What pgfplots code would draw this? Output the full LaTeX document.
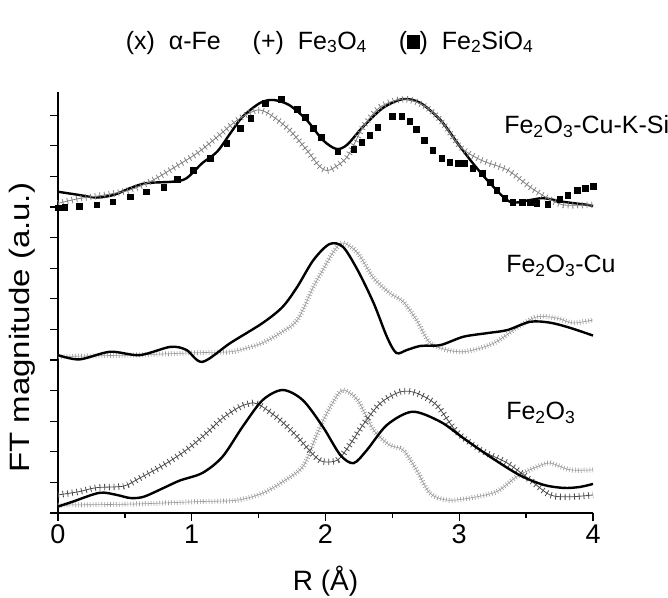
\documentclass[border=0pt]{standalone}
\usepackage{fontspec}
\setmainfont{Liberation Sans}
\newfontfamily\stretchfont{Liberation Sans}[FakeStretch=1.18]
\usepackage{pgfplots}
\pgfplotsset{compat=1.18}

\pgfplotsset{
  plusline/.style={#1, smooth, line width=0.8pt},
  plusbars/.style={#1, smooth, line width=6.5pt, dash pattern=on 0.8pt off 3.9pt},
  xline/.style={#1, smooth, line width=0.6pt},
  xbars/.style={#1, smooth, line width=5pt, dash pattern=on 0.6pt off 2.3pt},
}

\pgfplotstableread{
x y
0.00 10.50
0.15 10.40
0.29 10.31
0.42 10.40
0.54 10.62
0.66 10.78
0.86 10.83
0.96 10.94
1.08 11.44
1.19 11.81
1.29 12.42
1.38 12.95
1.51 13.40
1.61 13.50
1.73 13.33
1.86 12.84
1.98 12.19
2.08 11.90
2.16 12.03
2.28 12.62
2.43 13.24
2.58 13.53
2.71 13.40
2.86 12.84
2.98 12.13
3.10 11.44
3.23 10.78
3.38 10.17
3.53 10.23
3.63 10.29
3.78 10.17
3.96 10.07
4.00 10.03
}\topsolid

\pgfplotstableread{
x y
0.00 10.12
0.16 10.28
0.34 10.39
0.54 10.56
0.71 10.88
0.86 11.27
1.04 11.76
1.19 12.29
1.34 12.84
1.49 13.17
1.59 13.01
1.73 12.52
1.86 11.86
1.96 11.31
2.03 11.21
2.16 11.63
2.28 12.61
2.41 13.27
2.58 13.53
2.73 13.33
2.86 12.84
3.01 11.96
3.16 11.54
3.36 11.21
3.53 10.65
3.66 10.29
3.78 10.07
3.96 10.07
4.00 10.07
}\topplus

\pgfplotstableread{
x y
0.00 9.98
0.05 9.99
0.16 10.03
0.29 10.07
0.41 10.17
0.54 10.34
0.66 10.50
0.79 10.64
0.89 10.91
1.01 11.21
1.14 11.60
1.26 12.09
1.36 12.58
1.44 12.91
1.55 13.40
1.67 13.53
1.79 13.20
1.85 12.94
1.91 12.58
1.97 12.29
2.09 11.83
2.21 11.90
2.27 12.12
2.33 12.35
2.39 12.61
2.50 12.97
2.57 12.97
2.63 12.81
2.68 12.55
2.74 12.19
2.80 11.86
2.87 11.60
2.93 11.47
2.99 11.44
3.04 11.44
3.10 11.27
3.17 11.11
3.23 10.82
3.28 10.56
3.34 10.29
3.40 10.16
3.47 10.16
3.53 10.16
3.58 10.13
3.66 10.10
3.75 10.26
3.81 10.39
3.88 10.56
3.94 10.62
4.00 10.68
}\topsq

\pgfplotstableread{
x y
0.00 5.16
0.16 5.02
0.39 5.27
0.61 5.16
0.84 5.43
0.96 5.33
1.08 4.94
1.29 5.56
1.53 6.21
1.68 6.74
1.79 7.40
1.91 8.27
2.03 8.79
2.13 8.70
2.24 7.94
2.36 6.86
2.46 5.75
2.53 5.23
2.61 5.33
2.71 5.46
2.86 5.49
3.03 5.76
3.21 5.88
3.36 5.98
3.53 6.25
3.68 6.22
3.83 6.05
4.00 5.80
}\midsolid

\pgfplotstableread{
x y
0.00 5.11
0.30 5.14
0.54 5.16
0.80 5.20
1.04 5.24
1.29 5.27
1.41 5.39
1.53 5.56
1.66 5.88
1.79 6.31
1.91 7.40
1.98 7.94
2.06 8.54
2.13 8.83
2.24 8.50
2.36 7.68
2.48 7.19
2.58 6.91
2.68 6.31
2.78 5.56
2.91 5.33
3.03 5.27
3.16 5.39
3.28 5.60
3.43 6.05
3.58 6.41
3.73 6.37
3.85 6.21
4.00 6.31
}\midx

\pgfplotstableread{
x y
0.00 0.21
0.11 0.37
0.31 0.66
0.44 0.59
0.54 0.49
0.64 0.53
0.79 0.82
0.91 1.06
1.08 1.31
1.23 1.84
1.38 2.82
1.53 3.69
1.68 4.02
1.83 3.69
1.98 2.82
2.11 1.90
2.21 1.63
2.31 2.06
2.46 2.88
2.65 3.31
2.86 2.98
3.03 2.45
3.23 1.84
3.45 1.24
3.63 0.92
3.78 0.82
3.90 0.85
4.00 0.95
}\botsolid

\pgfplotstableread{
x y
0.00 0.59
0.16 0.70
0.29 0.83
0.49 0.88
0.61 1.14
0.79 1.57
0.96 2.06
1.11 2.61
1.23 3.10
1.36 3.47
1.46 3.60
1.53 3.47
1.66 3.04
1.79 2.49
1.91 1.90
1.98 1.68
2.09 1.73
2.18 2.22
2.28 2.88
2.41 3.59
2.56 3.96
2.68 3.92
2.83 3.53
2.98 2.66
3.16 2.06
3.36 1.63
3.53 1.08
3.68 0.59
3.83 0.53
4.00 0.59
}\botplus

\pgfplotstableread{
x y
0.00 0.26
0.54 0.29
1.04 0.37
1.34 0.42
1.53 0.65
1.68 1.02
1.83 1.51
1.91 2.30
1.98 3.00
2.06 3.65
2.13 4.02
2.24 3.69
2.36 2.71
2.48 2.22
2.58 2.06
2.68 1.41
2.78 0.65
2.91 0.42
3.08 0.49
3.28 0.70
3.43 1.19
3.58 1.51
3.68 1.63
3.83 1.41
4.00 1.41
}\botx

\begin{document}
\begin{tikzpicture}
\begin{axis}[
  name=ax,
  scale only axis, width=535pt, height=421pt,
  xmin=0, xmax=4, ymin=0, ymax=13.76,
  clip=false,
  axis x line*=bottom, axis y line*=left,
  axis line style={line width=1.3pt},
  xtick={0,1,2,3,4}, minor xtick={0.5,1.5,2.5,3.5},
  ytick={0,1,...,13}, yticklabels={},
  tick align=outside,
  major tick length=8pt, minor tick length=5pt,
  every tick/.style={black, line width=1.3pt},
  xticklabel style={font=\fontsize{27}{30}\selectfont, /pgf/number format/assume math mode=true},
]
\addplot[black, line width=2.4pt, smooth] table {\topsolid};
\addplot[plusline={black!50}] table {\topplus};
\addplot[plusbars={black!50}] table {\topplus};
\addplot[only marks, mark=square*, mark size=2.8pt, black] table {\topsq};

\addplot[xline={black!40}] table {\midx};
\addplot[xbars={black!40}] table {\midx};
\addplot[black, line width=2.4pt, smooth] table {\midsolid};

\addplot[xline={black!40}] table {\botx};
\addplot[xbars={black!40}] table {\botx};
\addplot[plusline={black!70}] table {\botplus};
\addplot[plusbars={black!70}] table {\botplus};
\addplot[black, line width=2.4pt, smooth] table {\botsolid};

\node[anchor=base west, inner sep=0pt, font=\fontsize{25}{28}\selectfont] at (axis cs:3.335,12.41) {Fe\textsubscript{2}O\textsubscript{3}-Cu-K-Si};
\node[anchor=base west, inner sep=0pt, font=\fontsize{25}{28}\selectfont] at (axis cs:3.35,7.85) {Fe\textsubscript{2}O\textsubscript{3}-Cu};
\node[anchor=base west, inner sep=0pt, font=\fontsize{25}{28}\selectfont] at (axis cs:3.35,3.04) {Fe\textsubscript{2}O\textsubscript{3}};

\node[anchor=base, inner sep=0pt, font=\fontsize{25}{28}\selectfont] at (axis cs:2.03,15.16)
  {(x)\ \ α-Fe\quad\ (+)\ \ Fe\textsubscript{3}O\textsubscript{4}\quad\ (\rule{0.5em}{0.55em})\ \ Fe\textsubscript{2}SiO\textsubscript{4}};

\node[anchor=base, inner sep=0pt, font=\fontsize{28}{30}\selectfont] at (axis cs:2.0,-2.52) {R (Å)};
\node[rotate=90, anchor=center, inner sep=0pt, font=\stretchfont\fontsize{28}{30}\selectfont] at (axis cs:-0.269,6.05) {FT magnitude (a.u.)};
\end{axis}
\pgfresetboundingbox
\path[use as bounding box] ([shift={(-58pt,-84pt)}]ax.south west) rectangle ([shift={(75pt,92pt)}]ax.north east);
\end{tikzpicture}
\end{document}
